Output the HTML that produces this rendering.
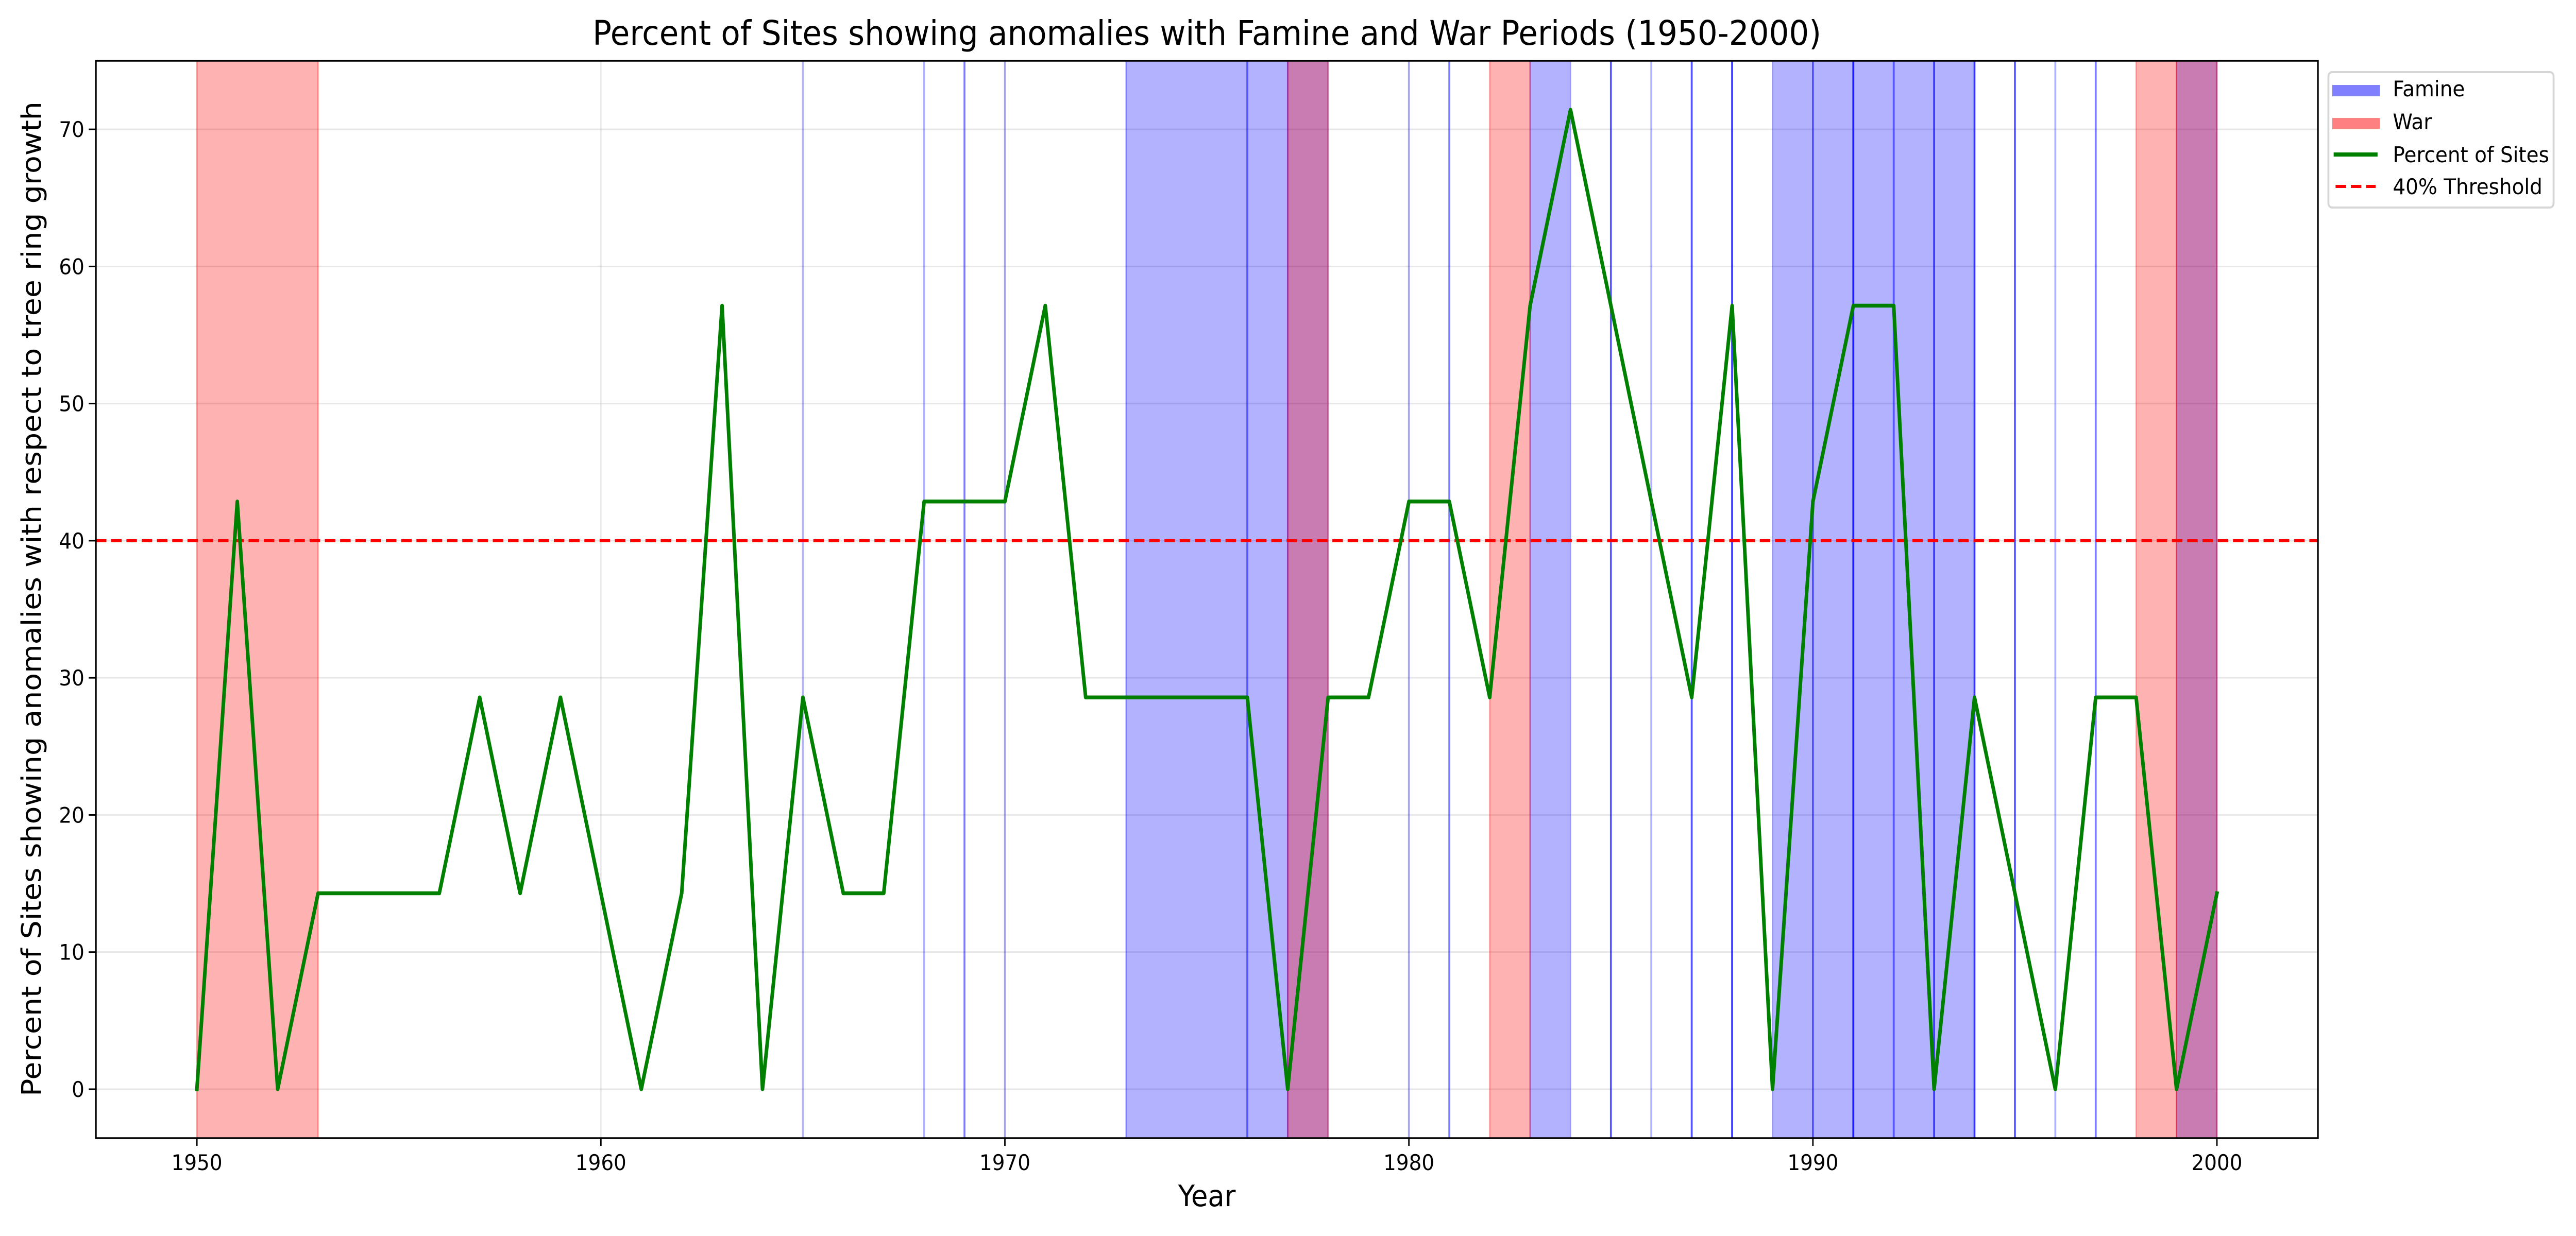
<!DOCTYPE html>
<html><head><meta charset="utf-8"><style>
html,body{margin:0;padding:0;background:#fff;width:100%;height:100%;overflow:hidden;}
svg{display:block;width:100vw;height:100vh;font-family:"DejaVu Sans","Liberation Sans",sans-serif;}
</style></head><body>
<svg id="chart" viewBox="0 0 5400 2400" preserveAspectRatio="none" xmlns="http://www.w3.org/2000/svg">
<rect x="0" y="0" width="5400" height="2400" fill="#fff"/>
<g id="grid"></g>
<g id="spans"></g>
<g id="lines"></g>
<g id="axes"></g>
<text x="2530" y="87" font-size="66" text-anchor="middle">Percent of Sites showing anomalies with Famine and War Periods (1950-2000)</text>
<text x="2530" y="2342" font-size="57" text-anchor="middle">Year</text>
<text x="0" y="0" font-size="57" text-anchor="middle" transform="translate(86,1163) rotate(-90)">Percent of Sites showing anomalies with respect to tree ring growth</text>
<g>
<rect x="4881" y="140" width="472" height="263" rx="8" fill="#fff" stroke="#d6d6d6" stroke-width="4"/>
<rect x="4889" y="165" width="100" height="22" fill="#8080ff"/>
<text x="5016" y="187" font-size="42">Famine</text>
<rect x="4889" y="229" width="100" height="22" fill="#ff8080"/>
<text x="5016" y="251" font-size="42">War</text>
<line x1="4892" y1="300" x2="4984" y2="300" stroke="green" stroke-width="8"/>
<text x="5016" y="315" font-size="42">Percent of Sites</text>
<line x1="4896" y1="362" x2="4980" y2="362" stroke="red" stroke-width="6" stroke-dasharray="22,10"/>
<text x="5016" y="377" font-size="42">40% Threshold</text>
</g>
</svg>
<script>
const years = [1950,1951,1952,1953,1954,1955,1956,1957,1958,1959,1960,1961,1962,1963,1964,1965,1966,1967,1968,1969,1970,1971,1972,1973,1974,1975,1976,1977,1978,1979,1980,1981,1982,1983,1984,1985,1986,1987,1988,1989,1990,1991,1992,1993,1994,1995,1996,1997,1998,1999,2000];
const percents = [0,42.86,0,14.29,14.29,14.29,14.29,28.57,14.29,28.57,14.29,0,14.29,57.14,0,28.57,14.29,14.29,42.86,42.86,42.86,57.14,28.57,28.57,28.57,28.57,28.57,0,28.57,28.57,42.86,42.86,28.57,57.14,71.43,57.14,42.86,28.57,57.14,0,42.86,57.14,57.14,0,28.57,14.29,0,28.57,28.57,0,14.29];
const famineStarts = [1973,1977,1983,1989,1999];
const famineEnds = [1977,1978,1984,1994,2000];
const warStarts = [1950,1977,1982,1998,1999];
const warEnds = [1953,1978,1983,1999,2000];
const famineLineYears = [1965,1968,1969,1970,1976,1980,1981,1985,1986,1987,1988,1990,1991,1992,1993,1994,1995,1996,1997];
const famineLineCounts = [1,1,2,1,2,1,2,3,1,3,4,2,5,2,3,3,3,1,2];
const xTicks = [1950,1960,1970,1980,1990,2000];
const yTicks = [0,10,20,30,40,50,60,70];
const threshold = 40;

const L=201,R=4859,T=118,B=2210;
const xMin=1947.5,xMax=2002.5,yMin=-3.57,yMax=75;
const xs=v=>L+(v-xMin)/(xMax-xMin)*(R-L);
const ys=v=>B-(v-yMin)/(yMax-yMin)*(B-T);
const NS='http://www.w3.org/2000/svg';
function mk(tag,attrs,parent){const e=document.createElementNS(NS,tag);for(const k in attrs)e.setAttribute(k,attrs[k]);parent.appendChild(e);return e;}
const grid=document.getElementById('grid'),spans=document.getElementById('spans'),lines=document.getElementById('lines'),axes=document.getElementById('axes');

yTicks.forEach(t=>{const g=mk('line',{x1:L,x2:R,y1:ys(t),y2:ys(t),stroke:'#b0b0b0','stroke-opacity':0.3,'stroke-width':3},grid);

});
xTicks.forEach(t=>{const g=mk('line',{x1:xs(t),x2:xs(t),y1:T,y2:B,stroke:'#b0b0b0','stroke-opacity':0.3,'stroke-width':3},grid);

});

famineStarts.forEach((s,i)=>{const r=mk('rect',{x:xs(s),y:T,width:xs(famineEnds[i])-xs(s),height:B-T,fill:'rgba(0,0,255,0.3)',stroke:'rgba(0,0,255,0.3)','stroke-width':3},spans);

});
warStarts.forEach((s,i)=>{const r=mk('rect',{x:xs(s),y:T,width:xs(warEnds[i])-xs(s),height:B-T,fill:'rgba(255,0,0,0.3)',stroke:'rgba(255,0,0,0.3)','stroke-width':3},spans);

});
famineLineYears.forEach((y,i)=>{const a=1-Math.pow(0.7,famineLineCounts[i]);const l=mk('line',{x1:xs(y),x2:xs(y),y1:T,y2:B,stroke:'blue','stroke-opacity':a.toFixed(3),'stroke-width':4},spans);

});

const th=mk('line',{x1:L,x2:R,y1:ys(threshold),y2:ys(threshold),stroke:'red','stroke-width':6,'stroke-dasharray':'22,10'},lines);


const pts=years.map((y,i)=>xs(y).toFixed(1)+','+ys(percents[i]).toFixed(1)).join(' ');
const pl=mk('polyline',{points:pts,fill:'none',stroke:'green','stroke-width':7.5,'stroke-linejoin':'round','stroke-linecap':'square'},lines);



const fr=mk('rect',{x:L,y:T,width:R-L,height:B-T,fill:'none',stroke:'#000','stroke-width':3.5},axes);


xTicks.forEach(t=>{const k=mk('line',{x1:xs(t),x2:xs(t),y1:B,y2:B+15,stroke:'#000','stroke-width':3},axes);


const tx=mk('text',{x:xs(t),y:B+62,'font-size':42,'text-anchor':'middle'},axes);tx.textContent=t;

});
yTicks.forEach(t=>{const k=mk('line',{x1:L-15,x2:L,y1:ys(t),y2:ys(t),stroke:'#000','stroke-width':3},axes);


const tx=mk('text',{x:L-24,y:ys(t)+15,'font-size':42,'text-anchor':'end'},axes);tx.textContent=t;

});
</script>
</body></html>
